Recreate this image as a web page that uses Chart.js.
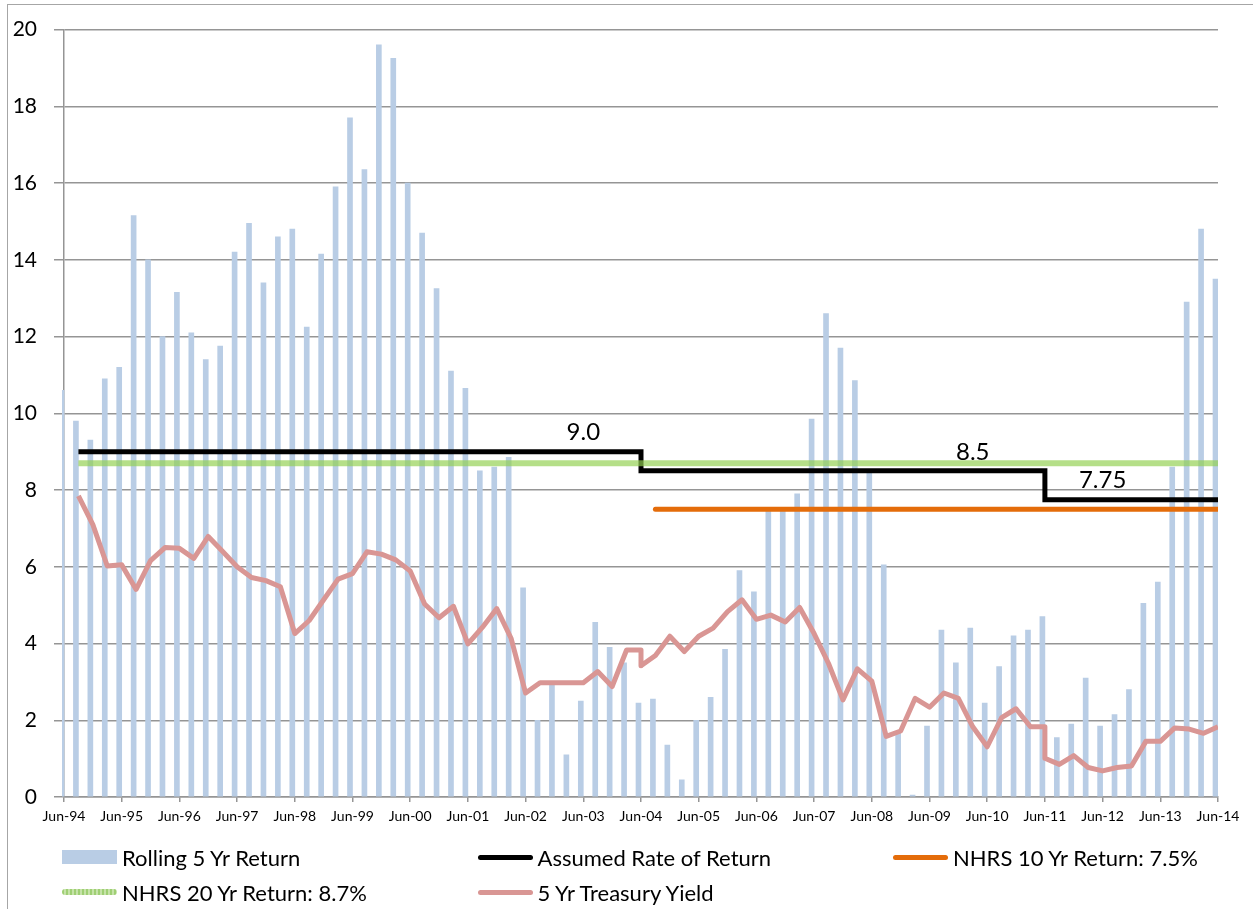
<!DOCTYPE html>
<html>
<head>
<meta charset="utf-8">
<script src="https://cdn.jsdelivr.net/npm/chart.js@4.4.0/dist/chart.umd.min.js"></script>
<style>
  body { margin: 0; background: #fff; font-family: Lato, sans-serif; }
  #wrap { position: relative; width: 1253px; height: 909px; overflow: hidden; }
  #frame { position: absolute; left: 7px; top: 4px; right: -2px; bottom: -2px;
           border-left: 1px solid #a6a6a6; border-top: 1px solid #a6a6a6; }
  #chart { position: absolute; left: 0; top: 0; }
  .leg { position: absolute; display: flex; align-items: center; height: 30px;
         margin-top: -15px; font-size: 22px; color: #000; white-space: nowrap; }
  .mk { width: 55px; margin-right: 5px; }
</style>
</head>
<body>
<div id="wrap">
  <div id="frame"></div>
  <canvas id="chart" width="1253" height="909"></canvas>
</div>
<script>
// quarterly categories, Jun-94 .. Jun-14
const categories = [
  "Jun-94", "Sep-94", "Dec-94", "Mar-95", "Jun-95", "Sep-95", "Dec-95", "Mar-96",
  "Jun-96", "Sep-96", "Dec-96", "Mar-97", "Jun-97", "Sep-97", "Dec-97", "Mar-98",
  "Jun-98", "Sep-98", "Dec-98", "Mar-99", "Jun-99", "Sep-99", "Dec-99", "Mar-00",
  "Jun-00", "Sep-00", "Dec-00", "Mar-01", "Jun-01", "Sep-01", "Dec-01", "Mar-02",
  "Jun-02", "Sep-02", "Dec-02", "Mar-03", "Jun-03", "Sep-03", "Dec-03", "Mar-04",
  "Jun-04", "Sep-04", "Dec-04", "Mar-05", "Jun-05", "Sep-05", "Dec-05", "Mar-06",
  "Jun-06", "Sep-06", "Dec-06", "Mar-07", "Jun-07", "Sep-07", "Dec-07", "Mar-08",
  "Jun-08", "Sep-08", "Dec-08", "Mar-09", "Jun-09", "Sep-09", "Dec-09", "Mar-10",
  "Jun-10", "Sep-10", "Dec-10", "Mar-11", "Jun-11", "Sep-11", "Dec-11", "Mar-12",
  "Jun-12", "Sep-12", "Dec-12", "Mar-13", "Jun-13", "Sep-13", "Dec-13", "Mar-14",
  "Jun-14"
];

// tick labels shown on the x axis
const tickLabels = ["Jun-94", "Jun-95", "Jun-96", "Jun-97", "Jun-98", "Jun-99", "Jun-00",
  "Jun-01", "Jun-02", "Jun-03", "Jun-04", "Jun-05", "Jun-06", "Jun-07", "Jun-08",
  "Jun-09", "Jun-10", "Jun-11", "Jun-12", "Jun-13", "Jun-14"];

// Rolling 5 Yr Return, one per quarter
const rolling5 = [
  10.6, 9.8, 9.3, 10.9, 11.2, 15.15, 14.0, 12.0, 13.15, 12.1, 11.4, 11.75,
  14.2, 14.95, 13.4, 14.6, 14.8, 12.25, 14.15, 15.9, 17.7, 16.35, 19.6, 19.25,
  16.0, 14.7, 13.25, 11.1, 10.65, 8.5, 8.6, 8.85, 5.45, 2.0, 2.95, 1.1,
  2.5, 4.55, 3.9, 3.5, 2.45, 2.55, 1.35, 0.45, 2.0, 2.6, 3.85, 5.9,
  5.35, 7.45, 7.45, 7.9, 9.85, 12.6, 11.7, 10.85, 8.5, 6.05, 1.7, 0.05,
  1.85, 4.35, 3.5, 4.4, 2.45, 3.4, 4.2, 4.35, 4.7, 1.55, 1.9, 3.1,
  1.85, 2.15, 2.8, 5.05, 5.6, 8.6, 12.9, 14.8, 13.5
];

// 5 Yr Treasury Yield, one per quarter (none for the first)
const treasury = [
  null, 7.85, 7.1, 6.02, 6.05, 5.41, 6.16, 6.5, 6.48, 6.22, 6.79, 6.4,
  6.0, 5.72, 5.64, 5.48, 4.26, 4.6, 5.14, 5.68, 5.82, 6.39, 6.33, 6.18,
  5.89, 5.03, 4.67, 4.97, 3.99, 4.42, 4.91, 4.13, 2.71, 2.98, 2.98, 2.98,
  2.98, 3.27, 2.88, 3.83, 3.83, 3.69, 4.19, 3.79, 4.19, 4.4, 4.83, 5.14,
  4.63, 4.74, 4.56, 4.94, 4.26, 3.48, 2.53, 3.34, 3.02, 1.58, 1.72, 2.57,
  2.34, 2.71, 2.57, 1.83, 1.31, 2.07, 2.3, 1.83, 1.83, 0.85, 1.08, 0.77,
  0.68, 0.77, 0.81, 1.45, 1.45, 1.8, 1.77, 1.66, 1.83
];
// same-quarter drops in the treasury series
const treasuryDropAt = ["Jun-04", "Jun-11"];
const treasuryDropTo = [3.42, 1.01];

// Assumed Rate of Return steps
const assumedRates = [9.0, 8.5, 7.75];
const assumedFrom = ["Sep-94", "Jun-04", "Jun-11"];
const assumedTo = "Jun-14";
const assumedLabels = ["9.0", "8.5", "7.75"];
const assumedLabelAt = ["Jun-03", "Mar-10", "Jun-12"];

// NHRS returns
const nhrs10 = 7.5, nhrs10From = "Sep-04", nhrs10To = "Jun-14";
const nhrs20 = 8.7, nhrs20From = "Sep-94", nhrs20To = "Jun-14";

const q = l => categories.indexOf(l);

const treasuryPts = [];
treasury.forEach((v, i) => {
  if (v === null) return;
  treasuryPts.push({ x: i, y: v });
  const d = treasuryDropAt.indexOf(categories[i]);
  if (d >= 0) treasuryPts.push({ x: i, y: treasuryDropTo[d] });
});

const assumedPts = [];
assumedRates.forEach((r, k) => {
  const end = k + 1 < assumedFrom.length ? assumedFrom[k + 1] : assumedTo;
  assumedPts.push({ x: q(assumedFrom[k]), y: r }, { x: q(end), y: r });
});

const nhrs10Pts = [{ x: q(nhrs10From), y: nhrs10 }, { x: q(nhrs10To), y: nhrs10 }];
const nhrs20Pts = [{ x: q(nhrs20From), y: nhrs20 }, { x: q(nhrs20To), y: nhrs20 }];

const GRID = "#959595";

// labels on the assumed-rate line
const stepLabels = {
  id: "stepLabels",
  afterDatasetsDraw(chart) {
    const ctx = chart.ctx, xs = chart.scales.xq, ys = chart.scales.y;
    ctx.save();
    ctx.font = "24px Lato";
    ctx.fillStyle = "#000";
    ctx.textAlign = "center";
    ctx.textBaseline = "middle";
    assumedLabels.forEach((t, k) => {
      ctx.fillText(t, xs.getPixelForValue(q(assumedLabelAt[k])), ys.getPixelForValue(assumedRates[k]) - 19);
    });
    ctx.restore();
  }
};

const chart = new Chart(document.getElementById("chart"), {
  type: "bar",
  data: {
    labels: categories,
    datasets: [
      {
        label: "Rolling 5 Yr Return",
        data: rolling5,
        backgroundColor: "#B9CDE5",
        barThickness: 5,
        clip: { left: 2, top: 0, right: 0, bottom: 0 },
        order: 5
      },
      {
        type: "line",
        label: "Assumed Rate of Return",
        data: assumedPts,
        xAxisID: "xq",
        borderColor: "#000",
        borderWidth: 5,
        borderJoinStyle: "miter",
        pointRadius: 0,
        order: 4
      },
      {
        type: "line",
        label: "NHRS 10 Yr Return: 7.5%",
        data: nhrs10Pts,
        xAxisID: "xq",
        borderColor: "#E46C0A",
        borderWidth: 5,
        borderCapStyle: "round",
        pointRadius: 0,
        order: 3
      },
      {
        type: "line",
        label: "NHRS 20 Yr Return: 8.7%",
        data: nhrs20Pts,
        xAxisID: "xq",
        borderColor: "rgba(146,208,80,0.68)",
        borderWidth: 6,
        pointRadius: 0,
        order: 2
      },
      {
        type: "line",
        label: "5 Yr Treasury Yield",
        data: treasuryPts,
        xAxisID: "xq",
        borderColor: "#D99694",
        borderWidth: 5,
        borderJoinStyle: "round",
        pointRadius: 0,
        tension: 0,
        order: 1
      }
    ]
  },
  options: {
    responsive: false,
    animation: false,
    layout: { padding: { left: 0, right: 35, top: 24, bottom: 0 } },
    plugins: { legend: { display: false }, tooltip: { enabled: false } },
    scales: {
      x: {
        type: "category",
        offset: false,
        grid: { offset: false, drawOnChartArea: false, color: GRID, tickLength: 5, lineWidth: 1.5 },
        border: { color: GRID, width: 1.5 },
        ticks: {
          autoSkip: false,
          maxRotation: 0,
          padding: 6,
          color: "#000",
          font: { family: "Lato", size: 14 },
          callback: (v, i) => tickLabels.includes(categories[i]) ? categories[i] : null
        },
        afterFit: s => { s.height = 112; }
      },
      xq: {
        type: "linear",
        display: false,
        offset: false,
        grid: { offset: false },
        min: 0,
        max: categories.length - 1
      },
      y: {
        min: 0,
        max: 20,
        ticks: { stepSize: 2, padding: 17, color: "#000", font: { family: "Lato", size: 21 } },
        grid: { color: GRID, lineWidth: 1.5, tickLength: 10 },
        border: { color: GRID, width: 1.5 },
        afterFit: s => { s.width = 64; }
      }
    }
  },
  plugins: [stepLabels]
});

// legend in three columns, two rows
const wrap = document.getElementById("wrap");
chart.data.datasets.forEach((ds, k) => {
  const col = k % 3, row = Math.floor(k / 3);
  const el = document.createElement("div");
  el.className = "leg";
  el.style.left = (62 + col * 415.5) + "px";
  el.style.top = (857 + row * 35) + "px";
  const mk = document.createElement("span");
  mk.className = "mk";
  if (k === 0) {
    mk.style.height = "14px";
    mk.style.background = ds.backgroundColor;
  } else if (ds.label.startsWith("NHRS 20")) {
    mk.style.height = "6px";
    mk.style.borderRadius = "3px";
    mk.style.background = "repeating-linear-gradient(90deg, #9fcf74 0 2px, #c6e3a9 2px 4px)";
  } else {
    mk.style.height = "5px";
    mk.style.borderRadius = "3px";
    mk.style.background = ds.borderColor;
  }
  const tx = document.createElement("span");
  tx.textContent = ds.label;
  el.appendChild(mk);
  el.appendChild(tx);
  wrap.appendChild(el);
});
</script>
</body>
</html>
